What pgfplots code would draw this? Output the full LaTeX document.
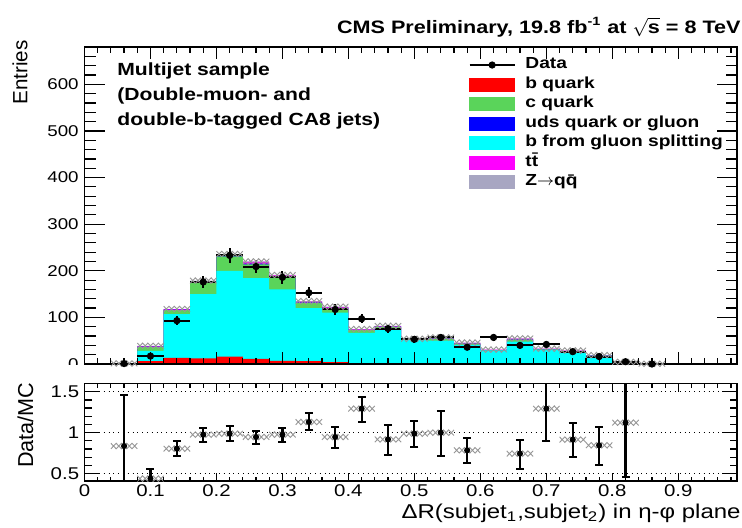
\documentclass[border=0pt]{standalone}
\usepackage{pgfplots}
\pgfplotsset{compat=1.18}
\usepackage{pgfplotstable}
\usepackage{fontspec}
\setmainfont{Liberation Sans}[FakeStretch=1.2]
\newfontfamily\plainsans{Liberation Sans}
\definecolor{cgreen}{RGB}{90,212,90}
\definecolor{zgrey}{RGB}{168,166,194}
\definecolor{rred}{RGB}{255,0,0}
\definecolor{rblue}{RGB}{0,0,255}
\definecolor{rcyan}{RGB}{0,255,255}
\definecolor{rmag}{RGB}{255,0,255}
\definecolor{hgrey}{RGB}{150,150,150}

\pgfdeclareplotmark{xrow}{%
  \draw[hgrey, line width=0.45pt, fill=none]
    (-6.6pt,-1.4pt)--(-3.96pt,1.4pt)--(-1.32pt,-1.4pt)--(1.32pt,1.4pt)--(3.96pt,-1.4pt)--(6.6pt,1.4pt)
    (-6.6pt,1.4pt)--(-3.96pt,-1.4pt)--(-1.32pt,1.4pt)--(1.32pt,-1.4pt)--(3.96pt,1.4pt)--(6.6pt,-1.4pt);}
\pgfdeclareplotmark{tkR}{\pgfpathmoveto{\pgfqpoint{0pt}{0pt}}\pgfpathlineto{\pgfqpoint{\pgfplotmarksize}{0pt}}\pgfusepathqstroke}
\pgfdeclareplotmark{tkL}{\pgfpathmoveto{\pgfqpoint{0pt}{0pt}}\pgfpathlineto{\pgfqpoint{-\pgfplotmarksize}{0pt}}\pgfusepathqstroke}
\pgfdeclareplotmark{tkU}{\pgfpathmoveto{\pgfqpoint{0pt}{0pt}}\pgfpathlineto{\pgfqpoint{0pt}{\pgfplotmarksize}}\pgfusepathqstroke}
\pgfdeclareplotmark{tkD}{\pgfpathmoveto{\pgfqpoint{0pt}{0pt}}\pgfpathlineto{\pgfqpoint{0pt}{-\pgfplotmarksize}}\pgfusepathqstroke}
\pgfplotsset{tk/.style={only marks, forget plot, black, mark options={line width=0.6pt, solid, black}}}

% tick positions (second column unused)
\pgfplotstableread[row sep=\\]{v w\\0 0\\0.1 0\\0.2 0\\0.3 0\\0.4 0\\0.5 0\\0.6 0\\0.7 0\\0.8 0\\0.9 0\\}\txmaj
\pgfplotstableread[row sep=\\]{v w\\0.02 0\\0.04 0\\0.06 0\\0.08 0\\0.12 0\\0.14 0\\0.16 0\\0.18 0\\0.22 0\\0.24 0\\0.26 0\\0.28 0\\0.32 0\\0.34 0\\0.36 0\\0.38 0\\0.42 0\\0.44 0\\0.46 0\\0.48 0\\0.52 0\\0.54 0\\0.56 0\\0.58 0\\0.62 0\\0.64 0\\0.66 0\\0.68 0\\0.72 0\\0.74 0\\0.76 0\\0.78 0\\0.82 0\\0.84 0\\0.86 0\\0.88 0\\0.92 0\\0.94 0\\0.96 0\\0.98 0\\}\txmin
\pgfplotstableread[row sep=\\]{v w\\0 0\\100 0\\200 0\\300 0\\400 0\\500 0\\600 0\\}\tymaj
\pgfplotstableread[row sep=\\]{v w\\20 0\\40 0\\60 0\\80 0\\120 0\\140 0\\160 0\\180 0\\220 0\\240 0\\260 0\\280 0\\320 0\\340 0\\360 0\\380 0\\420 0\\440 0\\460 0\\480 0\\520 0\\540 0\\560 0\\580 0\\620 0\\640 0\\660 0\\}\tymin
\pgfplotstableread[row sep=\\]{v w\\0.5 0\\1 0\\1.5 0\\}\trmaj
\pgfplotstableread[row sep=\\]{v w\\0.6 0\\0.7 0\\0.8 0\\0.9 0\\1.1 0\\1.2 0\\1.3 0\\1.4 0\\}\trmin

% MC components per bin (lower bin edge)
\pgfplotstableread{
x    r    cy    g    bl   m    z
0.04 0.1  0.8   0.2  0.05 0.05 0.0
0.08 6    22    9    0.5  1    0.5
0.12 13   94    8.5  1    1    0.5
0.16 12   138   25   1.5  1.5  1
0.20 16   184   31   2    2    1
0.24 11   173   30   1.5  3.5  1
0.28 7    153   27   1.5  1.5  1
0.32 6    114   11   1    2    1
0.36 4    106   9.5  1    1.5  1
0.40 2    65    5.5  0.5  1.5  0.5
0.44 1.5  73.5  4.5  0.5  1.5  0.5
0.48 1    50    1.5  0.5  0.5  0.5
0.52 1    49    4.5  0.5  1.5  0.5
0.56 1    40    2.5  0.5  1.5  0.5
0.60 0.5  28.5  0.5  0.3  1    0.2
0.64 1    47    4.5  0.5  1.5  0.5
0.68 0.5  30.5  0.5  0.3  1    0.2
0.72 0.5  26.5  0.5  0.3  1    0.2
0.76 0.3  17.2  0.3  0.2  0.8  0.2
0.80 0.1  3.9   0.1  0.1  0.2  0.1
0.84 0    0.4   0    0    0.05 0.05
0.88 0    0.4   0    0    0.05 0.05
}\mc
\pgfplotstablecreatecol[create col/expr={\thisrow{r}}]{s1}\mc
\pgfplotstablecreatecol[create col/expr={\thisrow{s1}+\thisrow{cy}}]{s2}\mc
\pgfplotstablecreatecol[create col/expr={\thisrow{s2}+\thisrow{g}}]{s3}\mc
\pgfplotstablecreatecol[create col/expr={\thisrow{s3}+\thisrow{bl}}]{s4}\mc
\pgfplotstablecreatecol[create col/expr={\thisrow{s4}+\thisrow{m}}]{s5}\mc
\pgfplotstablecreatecol[create col/expr={\thisrow{s5}+\thisrow{z}}]{s6}\mc

\pgfplotstableread{
x    d     ey
0.06 1     1
0.10 17    4.1
0.14 93    9.6
0.18 176   13.3
0.22 233   15.3
0.26 209   14.5
0.30 186   13.6
0.34 153   12.4
0.38 117   10.8
0.42 97    9.8
0.46 76    8.7
0.50 53    7.3
0.54 57    7.5
0.58 36    6
0.62 57    7.5
0.66 40    6.3
0.70 42    6.5
0.74 26.5  5.1
0.78 16    4
0.82 5     2.2
0.86 0     0
}\datatab

\pgfplotstableread{
x    y     ep    em
0.06 0.837 0.618 0.5
0.10 0.44  0.117 0.1
0.14 0.805 0.093 0.094
0.18 0.976 0.085 0.086
0.22 0.988 0.089 0.09
0.26 0.947 0.069 0.081
0.30 0.976 0.077 0.09
0.34 1.13  0.11  0.102
0.38 0.947 0.122 0.138
0.42 1.293 0.142 0.163
0.46 0.918 0.18  0.194
0.50 0.988 0.15  0.163
0.54 1.0   0.26  0.28
0.58 0.785 0.15  0.155
0.66 0.744 0.171 0.187
0.70 1.293 0.5   0.395
0.74 0.915 0.203 0.212
0.78 0.846 0.223 0.236
0.82 1.122 0.6   0.663
}\ratiotab

\begin{document}
\begin{tikzpicture}
\useasboundingbox (0pt,0pt) rectangle (371pt,-263.5pt);
\begin{axis}[
  at={(42.25pt,-182pt)}, anchor=south west,
  scale only axis, width=326.25pt, height=158.5pt,
  xmin=0, xmax=0.989, ymin=0, ymax=680,
  axis on top,
  xtick={0,0.1,0.2,0.3,0.4,0.5,0.6,0.7,0.8,0.9}, xticklabels={},
  ytick={0,100,200,300,400,500,600},
  tick align=inside, major tick length=0pt, minor tick length=0pt,
  /pgf/number format/assume math mode=true,
  tick label style={font=\fontsize{7.8}{9}\selectfont},
  yticklabel style={inner sep=0pt, xshift=-2.75pt},
  axis line style={line width=0.75pt},
  legend cell align=left,
  legend style={at={(0.589,0.974)}, anchor=north west, draw=none, fill=none,
    inner sep=0pt, outer sep=0pt, row sep=0pt,
    font=\bfseries\fontsize{8}{9}\selectfont,
    nodes={inner sep=0pt, text height=6.75pt, text depth=3pt},
    /tikz/every odd column/.append style={column sep=5pt}},
]
\addplot[const plot, draw=none, fill=zgrey, forget plot] table[x=x,y=s6]{\mc} \closedcycle;
\addplot[const plot, draw=none, fill=rmag, forget plot] table[x=x,y=s5]{\mc} \closedcycle;
\addplot[const plot, draw=none, fill=rblue, forget plot] table[x=x,y=s4]{\mc} \closedcycle;
\addplot[const plot, draw=none, fill=cgreen, forget plot] table[x=x,y=s3]{\mc} \closedcycle;
\addplot[const plot, draw=none, fill=rcyan, forget plot] table[x=x,y=s2]{\mc} \closedcycle;
\addplot[const plot, draw=none, fill=rred, forget plot] table[x=x,y=s1]{\mc} \closedcycle;
\addplot[only marks, mark=xrow, forget plot, skip coords between index={21}{22}]
  table[x expr=\thisrow{x}+0.02, y=s6]{\mc};
\addplot[black, only marks, mark=*, mark size=1.6pt, forget plot,
  error bars/.cd, x dir=both, x fixed=0.02, y dir=both, y explicit,
  error mark=none, error bar style={line width=1pt, black}]
  table[x=x, y=d, y error=ey]{\datatab};
% frame ticks
\addplot[tk, mark=tkR, mark size=10pt] table[x expr=0, y=v]{\tymaj};
\addplot[tk, mark=tkR, mark size=5.5pt] table[x expr=0, y=v]{\tymin};
\addplot[tk, mark=tkL, mark size=10pt] table[x expr=0.989, y=v]{\tymaj};
\addplot[tk, mark=tkL, mark size=5.5pt] table[x expr=0.989, y=v]{\tymin};
\addplot[tk, mark=tkU, mark size=6pt] table[x=v, y expr=0]{\txmaj};
\addplot[tk, mark=tkU, mark size=3pt] table[x=v, y expr=0]{\txmin};
\addplot[tk, mark=tkD, mark size=6pt] table[x=v, y expr=680]{\txmaj};
\addplot[tk, mark=tkD, mark size=3pt] table[x=v, y expr=680]{\txmin};

\addlegendimage{legend image code/.code={\draw[black,line width=0.8pt] (0pt,0pt)--(22.5pt,0pt); \fill[black] (11.25pt,0pt) circle (1.6pt);}}
\addlegendentry{Data}
\addlegendimage{legend image code/.code={\fill[rred] (0pt,-3.25pt) rectangle (22.5pt,3.25pt);}}
\addlegendentry{b quark}
\addlegendimage{legend image code/.code={\fill[cgreen] (0pt,-3.25pt) rectangle (22.5pt,3.25pt);}}
\addlegendentry{c quark}
\addlegendimage{legend image code/.code={\fill[rblue] (0pt,-3.25pt) rectangle (22.5pt,3.25pt);}}
\addlegendentry{uds quark or gluon}
\addlegendimage{legend image code/.code={\fill[rcyan] (0pt,-3.25pt) rectangle (22.5pt,3.25pt);}}
\addlegendentry{b from gluon splitting}
\addlegendimage{legend image code/.code={\fill[rmag] (0pt,-3.25pt) rectangle (22.5pt,3.25pt);}}
\addlegendentry{t\={t}}
\addlegendimage{legend image code/.code={\fill[zgrey] (0pt,-3.25pt) rectangle (22.5pt,3.25pt);}}
\addlegendentry{Z\ensuremath{\rightarrow}q\={q}}
\end{axis}

\fill[white] (0pt,-182.7pt) rectangle (41.5pt,-188pt);

\begin{axis}[
  at={(42.25pt,-240.5pt)}, anchor=south west,
  scale only axis, width=326.25pt, height=48.75pt,
  xmin=0, xmax=0.989, ymin=0.41, ymax=1.6,
  axis on top,
  xtick={0,0.1,0.2,0.3,0.4,0.5,0.6,0.7,0.8,0.9},
  ytick={0.5,1,1.5},
  tick align=inside, major tick length=0pt, minor tick length=0pt,
  /pgf/number format/assume math mode=true,
  tick label style={font=\fontsize{8.5}{10}\selectfont},
  yticklabel style={inner sep=0pt, xshift=-2.5pt},
  xticklabel style={inner sep=0pt, yshift=-1.7pt},
  axis line style={line width=0.75pt},
  ymajorgrids, grid style={dotted, black, line width=0.6pt},
]
\addplot[only marks, mark=xrow, forget plot] table[x=x,y=y]{\ratiotab};
\addplot[black, only marks, mark=*, mark size=1.3pt, forget plot,
  error bars/.cd, y dir=both, y explicit, error mark=-,
  error bar style={line width=1.1pt, black},
  error mark options={rotate=90, black, line width=1.1pt, mark size=2pt}]
  table[x=x, y=y, y error plus=ep, y error minus=em]{\ratiotab};
% frame ticks
\addplot[tk, mark=tkR, mark size=7.5pt] table[x expr=0, y=v]{\trmaj};
\addplot[tk, mark=tkR, mark size=3.5pt] table[x expr=0, y=v]{\trmin};
\addplot[tk, mark=tkL, mark size=7.5pt] table[x expr=0.989, y=v]{\trmaj};
\addplot[tk, mark=tkL, mark size=3.5pt] table[x expr=0.989, y=v]{\trmin};
\addplot[tk, mark=tkU, mark size=4pt] table[x=v, y expr=0.41]{\txmaj};
\addplot[tk, mark=tkU, mark size=2pt] table[x=v, y expr=0.41]{\txmin};
\addplot[tk, mark=tkD, mark size=4pt] table[x=v, y expr=1.6]{\txmaj};
\addplot[tk, mark=tkD, mark size=2pt] table[x=v, y expr=1.6]{\txmin};
\end{axis}

\node[anchor=base east, font=\bfseries\fontsize{9}{11}\selectfont, inner sep=0pt] at (370.5pt,-16.5pt)
  {CMS Preliminary, 19.8 fb\textsuperscript{-1} at $\sqrt{\mbox{s}}$ = 8 TeV};
\node[rotate=90, anchor=south east, font=\plainsans\fontsize{10.3}{12}\selectfont, inner sep=0pt] at (14pt,-20pt) {Entries};
\node[rotate=90, anchor=center, font=\plainsans\fontsize{10.8}{12}\selectfont, inner sep=0pt] at (12.75pt,-212.5pt) {Data/MC};
\node[anchor=base east, font=\fontsize{10}{12}\selectfont, inner sep=0pt] at (370.5pt,-259pt)
  {ΔR(subjet\textsubscript{1},subjet\textsubscript{2}) in η-φ plane};
\node[anchor=base west, font=\bfseries\fontsize{8.8}{11}\selectfont, inner sep=0pt] at (58.5pt,-37.5pt) {Multijet sample};
\node[anchor=base west, font=\bfseries\fontsize{8.8}{11}\selectfont, inner sep=0pt] at (58.5pt,-50pt) {(Double-muon- and};
\node[anchor=base west, font=\bfseries\fontsize{8.8}{11}\selectfont, inner sep=0pt] at (58.5pt,-62.5pt) {double-b-tagged CA8 jets)};
\end{tikzpicture}
\end{document}
